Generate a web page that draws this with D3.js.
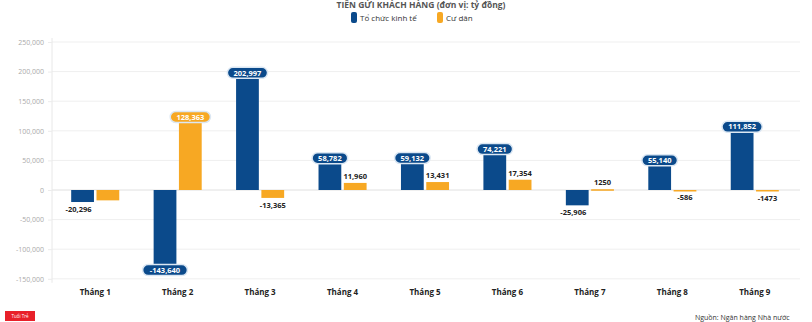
<!DOCTYPE html>
<html><head><meta charset="utf-8">
<script src="https://cdn.jsdelivr.net/npm/d3@7"></script>
<style>
body{margin:0;background:#fff;}
svg{display:block;font-family:"Open Sans","Noto Sans",sans-serif;}
</style></head>
<body>
<svg id="c" width="812" height="322"></svg>
<script>
const categories = ["Tháng 1","Tháng 2","Tháng 3","Tháng 4","Tháng 5","Tháng 6","Tháng 7","Tháng 8","Tháng 9"];
const seriesNames = ["Tổ chức kinh tế","Cư dân"];
const toChucKinhTe = [-20296,-143640,202997,58782,59132,74221,-25906,55140,111852];
const cuDan = [-17500,128363,-13365,11960,13431,17354,1250,-586,-1473];
const yTicks = [-150000,-100000,-50000,0,50000,100000,150000,200000,250000];
const colors = ["#0b4a8b","#f7a823"];

const svg = d3.select("#c");
const x0 = d3.scaleBand().domain(categories).range([54,796]).paddingInner(0.417).paddingOuter(0.2085);
const x1 = d3.scaleBand().domain([0,1]).range([0,x0.bandwidth()]).paddingInner(0.1);
const y = d3.scaleLinear().domain([-150000,250000]).range([278.8,42]);
const fmt = v => (v<0?"-":"") + (Math.abs(v)<10000 ? String(Math.abs(v)) : d3.format(",")(Math.abs(v)));

// title
svg.append("text").attr("x",421).attr("y",7.5).attr("text-anchor","middle")
  .attr("font-size",8.5).attr("fill","#555").attr("font-weight","bold")
  .text("TIỀN GỬI KHÁCH HÀNG (đơn vị: tỷ đồng)");

// legend
const lg = svg.append("g").attr("font-size",8).attr("fill","#333");
[[351,0],[437,1]].forEach(([lx,i])=>{
  lg.append("rect").attr("x",lx).attr("y",12).attr("width",6).attr("height",11).attr("rx",2).attr("fill",colors[i]);
  lg.append("text").attr("x",lx+9).attr("y",20.5).text(seriesNames[i]);
});

// grid
const grid = svg.append("g");
yTicks.forEach(t=>{
  grid.append("line").attr("x1",52).attr("x2",800).attr("y1",y(t)).attr("y2",y(t))
    .attr("stroke",t===0?"#e0e0e0":"#efefef").attr("stroke-width",1);
});
const yAxis = d3.axisLeft(y).tickValues(yTicks).tickFormat(d=>fmt(d)).tickSize(4).tickPadding(4);
const ag = svg.append("g").attr("transform","translate(52,0)").call(yAxis);
ag.select(".domain").attr("stroke","#e8e8e8").attr("d","M0,"+(y(250000)-4)+"V"+(y(-150000)+4));
ag.selectAll(".tick line").attr("stroke","#ececec");
ag.selectAll(".tick text").attr("fill","#aaa").attr("font-size",7).attr("font-family","\"Open Sans\",sans-serif");

// x labels
const xa = d3.axisBottom(x0).tickSize(0);
const xg = svg.append("g").attr("transform","translate(0,286)").call(xa);
xg.select(".domain").remove();
xg.selectAll(".tick text").attr("fill","#222").attr("font-size",8).attr("font-weight","bold").attr("font-family","\"Open Sans\",sans-serif");

// bars
const data = [toChucKinhTe, cuDan];
const bars = svg.append("g");
data.forEach((vals,si)=>{
  vals.forEach((v,i)=>{
    const bx = x0(categories[i]) + x1(si);
    bars.append("rect").attr("x",bx).attr("width",x1.bandwidth())
      .attr("y",y(Math.max(0,v))).attr("height",Math.max(1.5,Math.abs(y(v)-y(0))))
      .attr("fill",colors[si]);
  });
});

// labels
const lab = svg.append("g").attr("font-size",7.5).attr("font-weight","bold");
function badge(cx,cy,txt,col){
  const w = txt.length*4.6+8;
  lab.append("rect").attr("x",cx-w/2).attr("y",cy-5.5).attr("width",w).attr("height",11).attr("rx",5.5)
    .attr("fill",col).attr("stroke","#dbe7f3").attr("stroke-width",1.5);
  lab.append("text").attr("x",cx).attr("y",cy+2.7).attr("text-anchor","middle").attr("fill","#fff").text(txt);
}
function plain(px,py,txt){
  lab.append("text").attr("x",px).attr("y",py).attr("text-anchor","middle").attr("fill","#222").text(txt);
}
data.forEach((vals,si)=>{
  vals.forEach((v,i)=>{
    const cx = x0(categories[i]) + x1(si) + x1.bandwidth()/2;
    const big = Math.abs(y(v)-y(0)) > 25;
    if(big){
      badge(cx, v>0 ? y(v)+3 : y(v)-5, fmt(v), colors[si]);
    } else if(!(si===1 && i===0)){
      if(v<0) plain(si===0?cx-4:cx, y(v)+10, fmt(v));
      else plain(cx, y(v)-4, fmt(v));
    }
  });
});

// footer
svg.append("rect").attr("x",5).attr("y",311).attr("width",30).attr("height",10).attr("fill","#e8202a");
svg.append("text").attr("x",20).attr("y",318).attr("text-anchor","middle").attr("font-size",4.5).attr("fill","#fff").text("Tuổi Trẻ");
svg.append("text").attr("x",695).attr("y",320).attr("font-size",7).attr("fill","#333").text("Nguồn: Ngân hàng Nhà nước");
</script>
</body></html>
